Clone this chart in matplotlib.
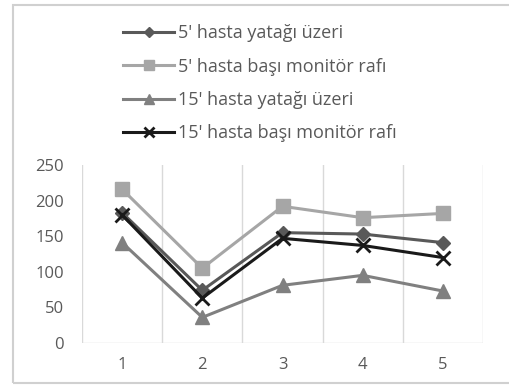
import matplotlib
matplotlib.use("Agg")
import matplotlib.pyplot as plt
from matplotlib.patches import Rectangle

categories = [1, 2, 3, 4, 5]
labels = [
    "5' hasta yatağı üzeri",
    "5' hasta başı monitör rafı",
    "15' hasta yatağı üzeri",
    "15' hasta başı monitör rafı",
]
s5_bed = [183, 74, 155, 153, 141]
s5_monitor = [216, 105, 192, 176, 182]
s15_bed = [141, 36, 81, 95, 73]
s15_monitor = [180, 63, 147, 137, 120]
y_ticks = [0, 50, 100, 150, 200, 250]

plt.rcParams["font.family"] = ["Open Sans", "DejaVu Sans"]

fig = plt.figure(figsize=(5.09, 3.85), dpi=100)
ax = fig.add_axes([82 / 509, 1 - 343 / 385, (483 - 82) / 509, (343 - 165) / 385])

series = [
    (s5_bed, "#595959", "D", 7),
    (s5_monitor, "#a6a6a6", "s", 10),
    (s15_bed, "#808080", "^", 10),
    (s15_monitor, "#1a1a1a", "x", 10),
]
handles = []
for (vals, color, marker, ms), lab in zip(series, labels):
    (h,) = ax.plot(categories, vals, color=color, lw=2.2, marker=marker,
                   markersize=ms, markeredgewidth=2 if marker == "x" else 1,
                   markeredgecolor=color, label=lab)
    handles.append(h)

ax.set_xlim(0.5, 5.5)
ax.set_ylim(0, 250)
ax.set_yticks(y_ticks)
ax.set_xticks(categories)
for xb in [0.5, 1.5, 2.5, 3.5, 4.5, 5.5]:
    ax.axvline(xb, color="#d9d9d9", lw=1, zorder=0)
ax.axhline(0, color="#d9d9d9", lw=1, zorder=0)
for sp in ax.spines.values():
    sp.set_visible(False)
ax.tick_params(length=0, colors="#595959", labelsize=12)
ax.tick_params(axis="y", pad=13)
ax.tick_params(axis="x", pad=10)

leg = fig.legend(handles=handles, loc="upper left",
                 bbox_to_anchor=(107 / 509, 1 - 8 / 385), frameon=False,
                 fontsize=13, handlelength=2.8, labelspacing=0.85,
                 handletextpad=0.25, markerscale=0.75)
for t in leg.get_texts():
    t.set_color("#595959")

fig.patches.append(Rectangle((13 / 509, 1 - 383 / 385), 1.1, (383 - 5) / 385,
                             transform=fig.transFigure, fill=False,
                             edgecolor="#d0d0d0", lw=1.5))

fig.savefig("out.png", dpi=100, facecolor="white")
